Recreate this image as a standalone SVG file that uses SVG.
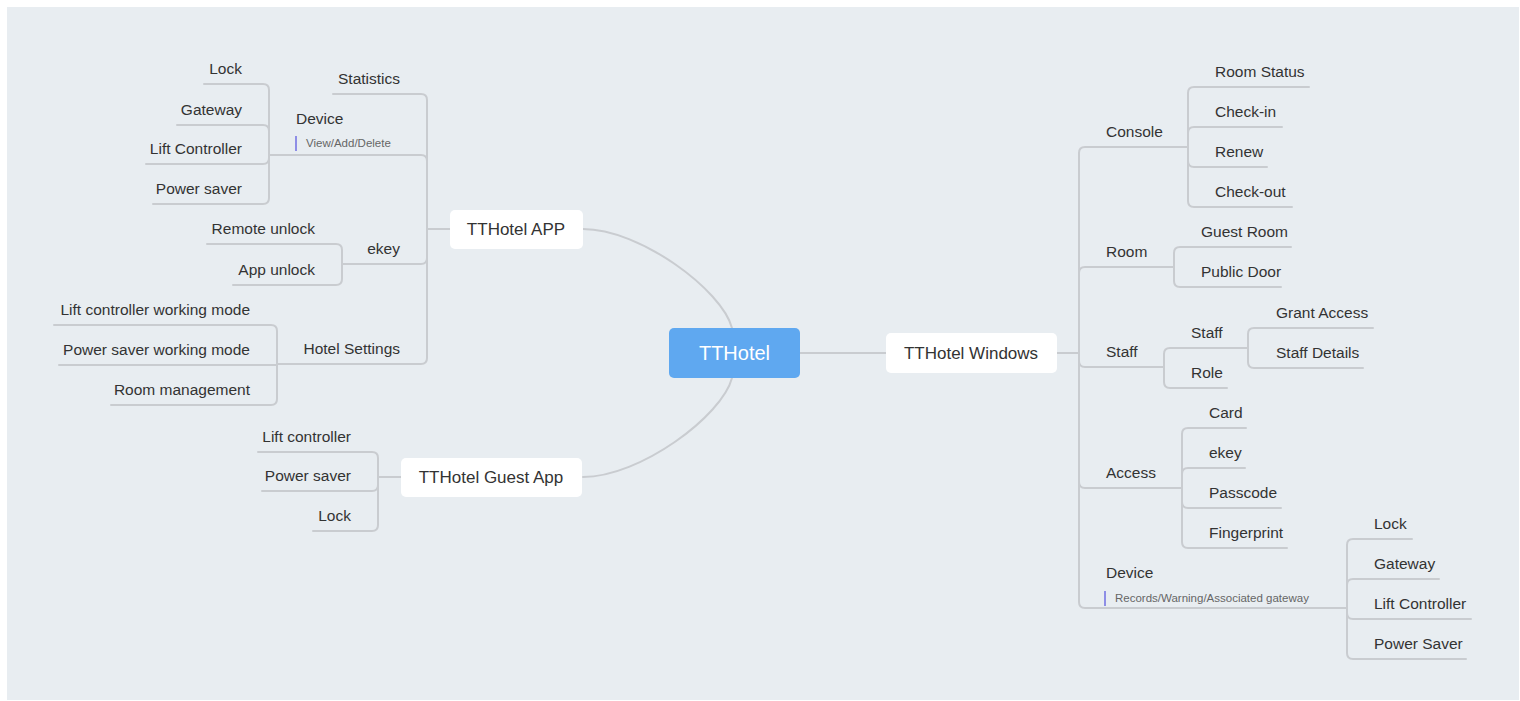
<svg xmlns="http://www.w3.org/2000/svg" width="1520" height="701" viewBox="0 0 1520 701">
<style>
  .ln { fill: none; stroke: #c9ccd0; stroke-width: 2; stroke-linecap: round; }
  .t { font-family: "Liberation Sans", Arial, sans-serif; font-size: 15.5px; fill: #333333; }
  .e { text-anchor: end; }
  .m { font-family: "Liberation Sans", Arial, sans-serif; font-size: 17px; fill: #333333; text-anchor: middle; }
  .d { font-family: "Liberation Sans", Arial, sans-serif; font-size: 11.5px; fill: #666666; }
  .bar { fill: #8e8ee6; }
  .box { fill: #ffffff; }
</style>
<rect x="0" y="0" width="1520" height="701" fill="#ffffff"/>
<rect x="7" y="7" width="1512" height="693" fill="#e8edf1"/>

<g id="connectors">
  <!-- central curves -->
  <path class="ln" d="M583 229 C640 229 722 290 732 328"/>
  <path class="ln" d="M583 477 C640 477 722 416 732 378"/>
  <path class="ln" d="M800 353 H886"/>
  <!-- TTHotel APP -->
  <path class="ln" d="M450 229 H427"/>
  <path class="ln" d="M427 229 V100 Q427 94 421 94 H333"/>
  <path class="ln" d="M427 229 V161 Q427 155 421 155 H269"/>
  <path class="ln" d="M427 229 V258 Q427 264 421 264 H342"/>
  <path class="ln" d="M427 229 V358 Q427 364 421 364 H277"/>
  <!-- Device (left) -->
  <path class="ln" d="M269 155 V90 Q269 84 263 84 H204"/>
  <path class="ln" d="M269 155 V131 Q269 125 263 125 H177"/>
  <path class="ln" d="M269 155 V158 Q269 164 263 164 H146"/>
  <path class="ln" d="M269 155 V198 Q269 204 263 204 H153"/>
  <!-- ekey (left) -->
  <path class="ln" d="M342 264 V250 Q342 244 336 244 H207"/>
  <path class="ln" d="M342 264 V279 Q342 285 336 285 H233"/>
  <!-- Hotel Settings -->
  <path class="ln" d="M277 364 V331 Q277 325 271 325 H54"/>
  <path class="ln" d="M277 364 V365 H59"/>
  <path class="ln" d="M277 364 V399 Q277 405 271 405 H111"/>
  <!-- Guest App -->
  <path class="ln" d="M401 477 H378"/>
  <path class="ln" d="M378 477 V458 Q378 452 372 452 H258"/>
  <path class="ln" d="M378 477 V485 Q378 491 372 491 H262"/>
  <path class="ln" d="M378 477 V525 Q378 531 372 531 H313"/>
  <!-- TTHotel Windows -->
  <path class="ln" d="M1057 353 H1079"/>
  <path class="ln" d="M1079 353 V153 Q1079 147 1085 147 H1188"/>
  <path class="ln" d="M1079 353 V273 Q1079 267 1085 267 H1174"/>
  <path class="ln" d="M1079 353 V361 Q1079 367 1085 367 H1164"/>
  <path class="ln" d="M1079 353 V482 Q1079 488 1085 488 H1182"/>
  <path class="ln" d="M1079 353 V602 Q1079 608 1085 608 H1347"/>
  <!-- Console -->
  <path class="ln" d="M1188 147 V93 Q1188 87 1194 87 H1309"/>
  <path class="ln" d="M1188 147 V133 Q1188 127 1194 127 H1282"/>
  <path class="ln" d="M1188 147 V161 Q1188 167 1194 167 H1267"/>
  <path class="ln" d="M1188 147 V201 Q1188 207 1194 207 H1292"/>
  <!-- Room -->
  <path class="ln" d="M1174 267 V253 Q1174 247 1180 247 H1291"/>
  <path class="ln" d="M1174 267 V281 Q1174 287 1180 287 H1281"/>
  <!-- Staff -->
  <path class="ln" d="M1164 367 V354 Q1164 348 1170 348 H1248"/>
  <path class="ln" d="M1164 367 V382 Q1164 388 1170 388 H1227"/>
  <path class="ln" d="M1248 348 V334 Q1248 328 1254 328 H1373"/>
  <path class="ln" d="M1248 348 V362 Q1248 368 1254 368 H1363"/>
  <!-- Access -->
  <path class="ln" d="M1182 488 V434 Q1182 428 1188 428 H1246"/>
  <path class="ln" d="M1182 488 V474 Q1182 468 1188 468 H1245"/>
  <path class="ln" d="M1182 488 V502 Q1182 508 1188 508 H1281"/>
  <path class="ln" d="M1182 488 V542 Q1182 548 1188 548 H1287"/>
  <!-- Device (right) -->
  <path class="ln" d="M1347 608 V545 Q1347 539 1353 539 H1412"/>
  <path class="ln" d="M1347 608 V585 Q1347 579 1353 579 H1439"/>
  <path class="ln" d="M1347 608 V613 Q1347 619 1353 619 H1471"/>
  <path class="ln" d="M1347 608 V653 Q1347 659 1353 659 H1466"/>
</g>

<g id="n-root">
  <rect x="669" y="328" width="131" height="50" rx="5" fill="#5fa8f0"/>
  <text x="734.5" y="360" font-family="Liberation Sans, Arial, sans-serif" font-size="20" fill="#ffffff" text-anchor="middle">TTHotel</text>
</g>
<g id="n-app">
  <rect class="box" x="450" y="210" width="133" height="39" rx="5"/>
  <text class="m" x="516" y="235">TTHotel APP</text>
</g>
<g id="n-guest">
  <rect class="box" x="401" y="458" width="181" height="39" rx="5"/>
  <text class="m" x="491" y="483">TTHotel Guest App</text>
</g>
<g id="n-windows">
  <rect class="box" x="886" y="333" width="171" height="40" rx="5"/>
  <text class="m" x="971" y="359">TTHotel Windows</text>
</g>

<!-- Left: APP branch -->
<g id="n-statistics"><text class="t e" x="400" y="84">Statistics</text></g>
<g id="n-device-l">
  <text class="t" x="296" y="124">Device</text>
  <rect class="bar" x="295" y="136" width="2" height="15"/>
  <text class="d" x="306" y="147">View/Add/Delete</text>
</g>
<g id="n-lock-l"><text class="t e" x="242" y="74">Lock</text></g>
<g id="n-gateway-l"><text class="t e" x="242" y="115">Gateway</text></g>
<g id="n-lift-l"><text class="t e" x="242" y="154">Lift Controller</text></g>
<g id="n-power-l"><text class="t e" x="242" y="194">Power saver</text></g>
<g id="n-ekey-l"><text class="t e" x="400" y="254">ekey</text></g>
<g id="n-remote"><text class="t e" x="315" y="234">Remote unlock</text></g>
<g id="n-appunlock"><text class="t e" x="315" y="275">App unlock</text></g>
<g id="n-hotelsettings"><text class="t e" x="400" y="354">Hotel Settings</text></g>
<g id="n-liftmode"><text class="t e" x="250" y="315">Lift controller working mode</text></g>
<g id="n-powermode"><text class="t e" x="250" y="355">Power saver working mode</text></g>
<g id="n-roommgmt"><text class="t e" x="250" y="395">Room management</text></g>

<!-- Left: Guest branch -->
<g id="n-g-lift"><text class="t e" x="351" y="442">Lift controller</text></g>
<g id="n-g-power"><text class="t e" x="351" y="481">Power saver</text></g>
<g id="n-g-lock"><text class="t e" x="351" y="521">Lock</text></g>

<!-- Right: Windows branch -->
<g id="n-console"><text class="t" x="1106" y="137">Console</text></g>
<g id="n-roomstatus"><text class="t" x="1215" y="77">Room Status</text></g>
<g id="n-checkin"><text class="t" x="1215" y="117">Check-in</text></g>
<g id="n-renew"><text class="t" x="1215" y="157">Renew</text></g>
<g id="n-checkout"><text class="t" x="1215" y="197">Check-out</text></g>
<g id="n-room"><text class="t" x="1106" y="257">Room</text></g>
<g id="n-guestroom"><text class="t" x="1201" y="237">Guest Room</text></g>
<g id="n-publicdoor"><text class="t" x="1201" y="277">Public Door</text></g>
<g id="n-staff"><text class="t" x="1106" y="357">Staff</text></g>
<g id="n-staff2"><text class="t" x="1191" y="338">Staff</text></g>
<g id="n-role"><text class="t" x="1191" y="378">Role</text></g>
<g id="n-grant"><text class="t" x="1276" y="318">Grant Access</text></g>
<g id="n-staffdetails"><text class="t" x="1276" y="358">Staff Details</text></g>
<g id="n-access"><text class="t" x="1106" y="478">Access</text></g>
<g id="n-card"><text class="t" x="1209" y="418">Card</text></g>
<g id="n-ekey-r"><text class="t" x="1209" y="458">ekey</text></g>
<g id="n-passcode"><text class="t" x="1209" y="498">Passcode</text></g>
<g id="n-fingerprint"><text class="t" x="1209" y="538">Fingerprint</text></g>
<g id="n-device-r">
  <text class="t" x="1106" y="578">Device</text>
  <rect class="bar" x="1104" y="591" width="2" height="15"/>
  <text class="d" x="1115" y="602">Records/Warning/Associated gateway</text>
</g>
<g id="n-lock-r"><text class="t" x="1374" y="529">Lock</text></g>
<g id="n-gateway-r"><text class="t" x="1374" y="569">Gateway</text></g>
<g id="n-lift-r"><text class="t" x="1374" y="609">Lift Controller</text></g>
<g id="n-power-r"><text class="t" x="1374" y="649">Power Saver</text></g>
</svg>
